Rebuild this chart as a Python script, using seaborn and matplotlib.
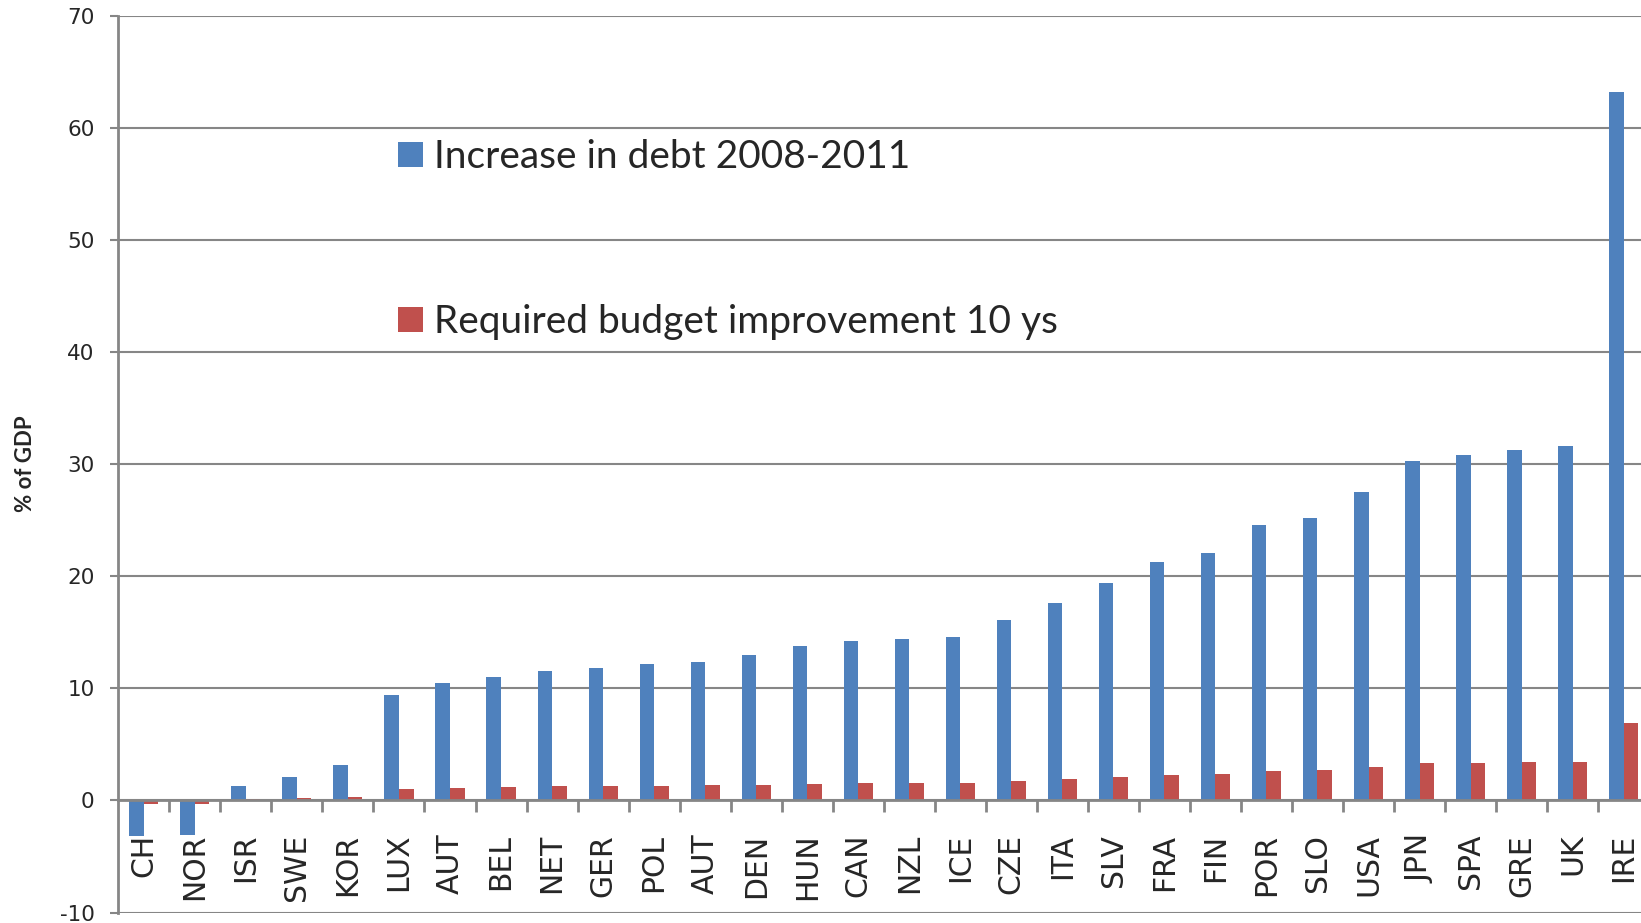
import matplotlib
matplotlib.use("Agg")
import matplotlib.pyplot as plt
import numpy as np
import pandas as pd
import seaborn as sns
from matplotlib.ticker import FixedLocator

countries = ["CH", "NOR", "ISR", "SWE", "KOR", "LUX", "AUT", "BEL", "NET", "GER",
             "POL", "AUT", "DEN", "HUN", "CAN", "NZL", "ICE", "CZE", "ITA", "SLV",
             "FRA", "FIN", "POR", "SLO", "USA", "JPN", "SPA", "GRE", "UK", "IRE"]

debt_increase = [-3.15, -3.1, 1.3, 2.1, 3.2, 9.45, 10.45, 11.0, 11.55, 11.85,
                 12.2, 12.35, 13.0, 13.8, 14.2, 14.4, 14.55, 16.1, 17.6, 19.4,
                 21.25, 22.1, 24.6, 25.2, 27.5, 30.3, 30.8, 31.3, 31.6, 63.2]

budget_improvement = [-0.33, -0.33, 0.12, 0.2, 0.33, 1.0, 1.1, 1.16, 1.25, 1.28,
                      1.3, 1.34, 1.4, 1.5, 1.55, 1.55, 1.55, 1.73, 1.9, 2.1,
                      2.3, 2.4, 2.65, 2.7, 3.0, 3.3, 3.35, 3.4, 3.45, 6.9]

series_names = ["Increase in debt 2008-2011", "Required budget improvement 10 ys"]
colors = ["#4F81BD", "#C0504D"]

sns.set_theme(style="white")
plt.rcParams["font.family"] = ["DejaVu Sans"]
plt.rcParams["axes.unicode_minus"] = False

pos = list(range(len(countries)))
df = pd.concat([
    pd.DataFrame({"pos": pos, "value": debt_increase, "series": series_names[0]}),
    pd.DataFrame({"pos": pos, "value": budget_improvement, "series": series_names[1]}),
])

fig = plt.figure(figsize=(16.41, 9.23), dpi=100)
ax = fig.add_axes([0.0721, 0.0113, 1 - 0.0721, 0.983 - 0.0113])

sns.barplot(data=df, x="pos", y="value", hue="series", order=pos,
            hue_order=series_names, palette=colors, width=0.57, gap=0,
            linewidth=0, saturation=1, ax=ax)

grey = "#868686"
ax.set_xlim(-0.5, 29.34)
ax.set_ylim(-10, 70)
ax.set_yticks(np.arange(-10, 71, 10))
ax.set_axisbelow(True)
ax.yaxis.grid(True, color=grey, linewidth=1.5)
ax.xaxis.grid(False)

for side in ["top", "right"]:
    ax.spines[side].set_visible(False)
ax.spines["left"].set_color(grey)
ax.spines["left"].set_linewidth(2)
ax.spines["bottom"].set_position(("data", 0))
ax.spines["bottom"].set_color(grey)
ax.spines["bottom"].set_linewidth(2)

ax.set_xticks(pos)
ax.set_xticklabels(countries, rotation=90, fontsize=21.5)
ax.xaxis.set_minor_locator(FixedLocator(np.arange(0.5, 29.5, 1)))
ax.tick_params(axis="x", which="major", length=0, pad=24)
ax.tick_params(axis="x", which="minor", length=8.5, width=2, color=grey,
               direction="out", bottom=True)
ax.tick_params(axis="y", length=6, width=1.5, color=grey, left=True,
               labelsize=15.5, pad=11)
ax.set_xlabel("")
ax.set_ylabel("% of GDP", fontsize=16, fontweight="bold", family="Lato")
ax.yaxis.set_label_coords(-0.054, 0.5)

sns.move_legend(ax, "upper left", bbox_to_anchor=(0.184, 0.862), title=None,
                frameon=False, fontsize=28, labelspacing=3.3, handlelength=0.62,
                handleheight=0.62, handletextpad=0.3, borderpad=0, borderaxespad=0)
for t in ax.get_legend().get_texts():
    t.set_family("Lato")

plt.savefig("out.png", dpi=100)
